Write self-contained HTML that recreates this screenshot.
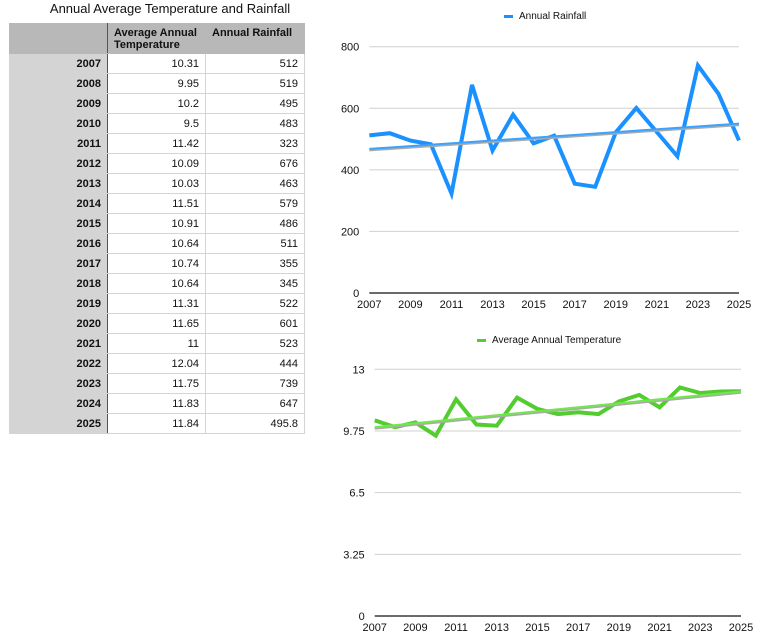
<!DOCTYPE html>
<html><head><meta charset="utf-8"><style>
body{margin:0;width:772px;height:642px;background:#fff;font-family:"Liberation Sans",Arial,sans-serif;position:relative;overflow:hidden}
.t{position:absolute;left:10px;top:1px;width:320px;text-align:center;font-size:13px;color:#111}
table{position:absolute;left:9px;top:23px;border-collapse:collapse;table-layout:fixed;font-size:11px}
td{height:20px;padding:0 6px;border:1px solid #d4d4d4;text-align:right;color:#111;box-sizing:border-box}
td.h{background:#d4d4d4;font-weight:bold;border-right:1px solid #555}
tr.hd td{height:30px;background:#b8b8b8;font-weight:bold;text-align:left;vertical-align:top;padding-top:3px;line-height:12px;border-color:#b8b8b8}
tr.hd td:first-child{border-right:1px solid #555}
</style></head><body>
<div class="t">Annual Average Temperature and Rainfall</div>
<table>
<colgroup><col style="width:98px"><col style="width:98px"><col style="width:99px"></colgroup>
<tr class="hd"><td></td><td>Average Annual Temperature</td><td>Annual Rainfall</td></tr>
<tr><td class="h">2007</td><td>10.31</td><td>512</td></tr>
<tr><td class="h">2008</td><td>9.95</td><td>519</td></tr>
<tr><td class="h">2009</td><td>10.2</td><td>495</td></tr>
<tr><td class="h">2010</td><td>9.5</td><td>483</td></tr>
<tr><td class="h">2011</td><td>11.42</td><td>323</td></tr>
<tr><td class="h">2012</td><td>10.09</td><td>676</td></tr>
<tr><td class="h">2013</td><td>10.03</td><td>463</td></tr>
<tr><td class="h">2014</td><td>11.51</td><td>579</td></tr>
<tr><td class="h">2015</td><td>10.91</td><td>486</td></tr>
<tr><td class="h">2016</td><td>10.64</td><td>511</td></tr>
<tr><td class="h">2017</td><td>10.74</td><td>355</td></tr>
<tr><td class="h">2018</td><td>10.64</td><td>345</td></tr>
<tr><td class="h">2019</td><td>11.31</td><td>522</td></tr>
<tr><td class="h">2020</td><td>11.65</td><td>601</td></tr>
<tr><td class="h">2021</td><td>11</td><td>523</td></tr>
<tr><td class="h">2022</td><td>12.04</td><td>444</td></tr>
<tr><td class="h">2023</td><td>11.75</td><td>739</td></tr>
<tr><td class="h">2024</td><td>11.83</td><td>647</td></tr>
<tr><td class="h">2025</td><td>11.84</td><td>495.8</td></tr>
</table>
<svg id="s" width="772" height="642" style="position:absolute;left:0;top:0" font-family="Liberation Sans, Arial, sans-serif" font-size="11" fill="#111"></svg>
<script>
var rain=[512,519,495,483,323,676,463,579,486,511,355,345,522,601,523,444,739,647,495.8];
var temp=[10.31,9.95,10.2,9.5,11.42,10.09,10.03,11.51,10.91,10.64,10.74,10.64,11.31,11.65,11,12.04,11.75,11.83,11.84];
var s='';
function chart(d,x0,x1,yTop,y0,max,ticks,col,light,leg,legx,legy,trend){
 var n=d.length,dx=(x1-x0)/(n-1),k=(y0-yTop)/max;
 ticks.forEach(function(t){var y=y0-t*k;
  if(t>0)s+='<line x1="'+x0+'" x2="'+x1+'" y1="'+y+'" y2="'+y+'" stroke="#d0d0d0" stroke-width="1"/>';
  s+='<text x="'+(x0-10)+'" y="'+(y+4)+'" text-anchor="end">'+t+'</text>';});
 s+='<line x1="'+x0+'" x2="'+x1+'" y1="'+y0+'" y2="'+y0+'" stroke="#111" stroke-width="1.2"/>';
 for(var i=0;i<n;i+=2)s+='<text x="'+(x0+i*dx)+'" y="'+(y0+15)+'" text-anchor="middle">'+(2007+i)+'</text>';
 var p=d.map(function(v,i){return (x0+i*dx).toFixed(1)+','+(y0-v*k).toFixed(1)}).join(' ');
 s+='<polyline points="'+p+'" fill="none" stroke="'+col+'" stroke-width="4" stroke-linejoin="miter"/>';
 var ya=y0-trend[0]*k,yb=y0-trend[1]*k;
 s+='<line x1="'+x0+'" x2="'+x1+'" y1="'+(ya+1.5)+'" y2="'+(yb+1.5)+'" stroke="#aaa" stroke-width="2"/>';
 s+='<line x1="'+x0+'" x2="'+x1+'" y1="'+ya+'" y2="'+yb+'" stroke="'+light+'" stroke-width="2"/>';
 s+='<rect x="'+legx+'" y="'+(legy-4)+'" width="9" height="3" fill="'+col+'"/>';
 s+='<text x="'+(legx+15)+'" y="'+legy+'" font-size="10">'+leg+'</text>';
}
chart(rain,369.3,739,46.7,293,800,[0,200,400,600,800],'#1a91ff','#3aa2ff','Annual Rainfall',504,19,[468,550]);
chart(temp,374.7,741,369.3,616,13,[0,3.25,6.5,9.75,13],'#52cc2e','#6fe84a','Average Annual Temperature',477,343,[9.95,11.84]);
document.getElementById('s').innerHTML=s;
</script>
</body></html>
